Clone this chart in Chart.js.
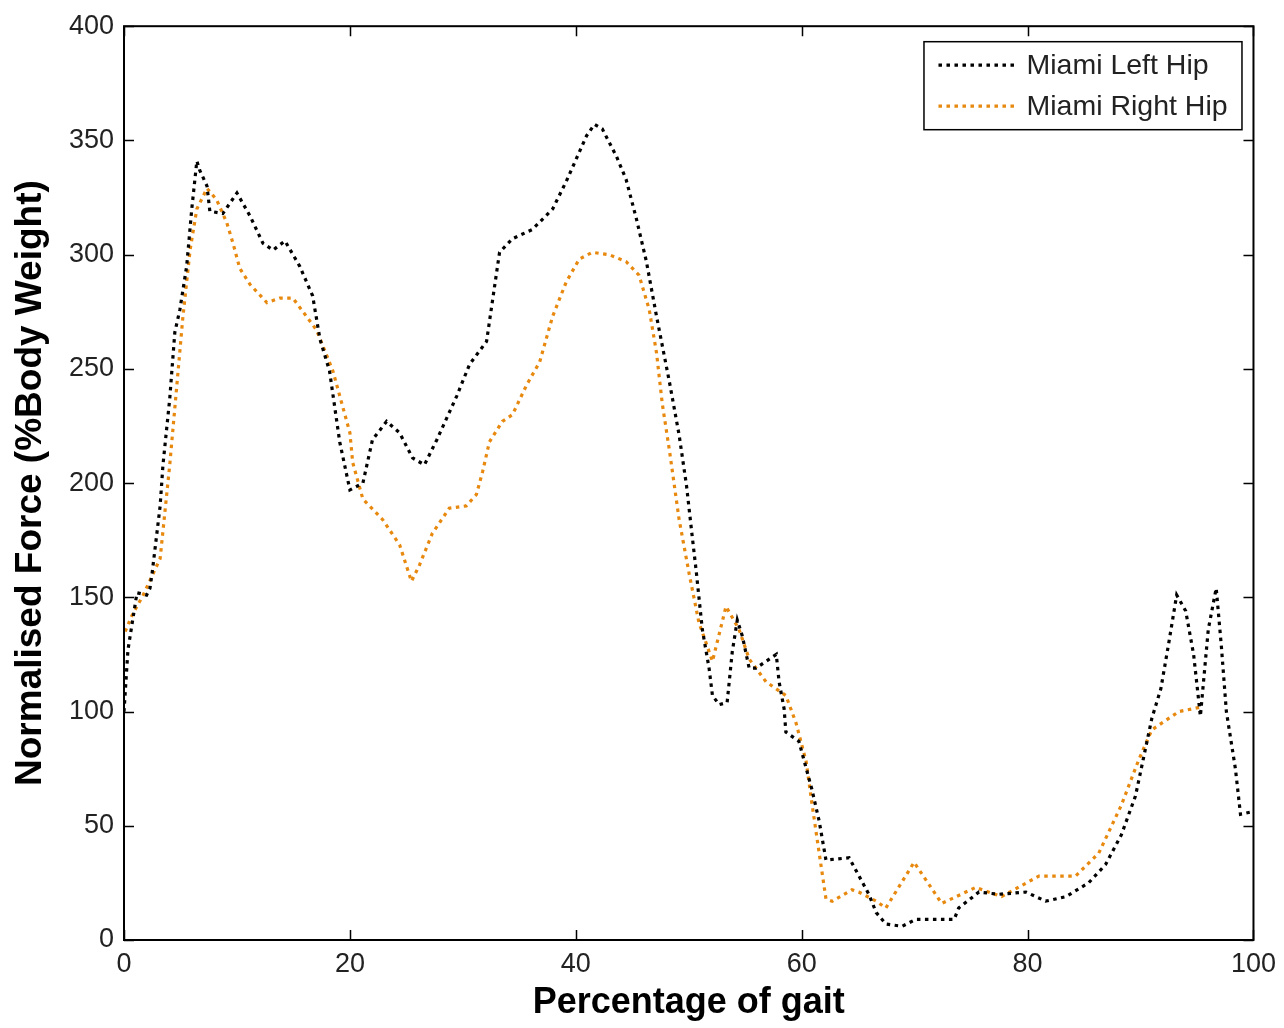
<!DOCTYPE html>
<html>
<head>
<meta charset="utf-8">
<script src="https://cdn.jsdelivr.net/npm/chart.js@4/dist/chart.umd.min.js"></script>
<style>
  html, body { margin: 0; padding: 0; background: #fff; }
  #wrap { width: 1284px; height: 1028px; }
</style>
</head>
<body>
<div id="wrap"><canvas id="c" width="1284" height="1028"></canvas></div>
<script>
// Joint contact force over the gait cycle
const leftHipX = [0, 0.35, 1.15, 2.0, 2.3, 2.5, 3.2, 3.45, 4.05, 4.5, 4.95, 5.55, 6.0, 6.45, 6.7, 7.35, 7.6, 8.75, 10.0, 11.15,
  12.3, 13.2, 14.25, 15.55, 16.7, 17.35, 18.2, 19.1, 20.0, 21.15, 22.0, 23.25, 24.4, 25.55, 26.6, 27.7, 29.45, 30.6, 32.1, 32.6,
  33.25, 34.4, 36.15, 37.95, 39.15, 40.95, 41.65, 42.35, 43.6, 44.45, 45.35, 46.25, 47.15, 48.3, 49.15, 49.8, 50.3, 50.65, 51.2, 51.8,
  52.1, 52.7, 53.4, 53.85, 54.3, 54.75, 55.35, 55.95, 56.85, 57.75, 58.0, 58.45, 58.6, 59.75, 60.9, 61.55, 62.15, 64.2, 65.95, 66.6,
  67.45, 68.9, 70.1, 73.5, 73.9, 75.7, 77.45, 79.85, 81.6, 83.4, 85.4, 86.9, 88.3, 89.55, 90.45, 91.0, 91.8, 92.5, 93.2, 94.0,
  94.7, 95.3, 96.0, 96.7, 97.15, 97.6, 98.4, 98.85, 99.75, 100];
const leftHipY = [100, 127, 152, 151, 154, 161, 190, 208, 237, 266, 276, 295, 320, 341, 337, 330, 319, 318, 327, 317,
  305, 302, 306, 295, 282, 263, 249, 218, 197, 200, 219, 227, 222, 211, 208, 219, 238, 252, 262, 279,
  301, 307, 311, 320, 332, 352, 357, 355, 343, 333, 316, 297, 273, 244, 221, 199, 177, 162, 136, 119,
  107, 103, 104, 126, 140, 133, 119, 119, 122, 125, 113, 101, 91, 87, 66, 52, 35, 36, 20, 12,
  7, 6, 9, 9, 14, 21, 20, 21, 17, 19, 25, 33, 46, 63, 84, 97, 110, 130, 151, 144,
  125, 98, 136, 154, 129, 100, 75, 55, 56, 57];

const rightHipX = [0.1, 0.7, 1.7, 3.2, 4.05, 4.7, 5.2, 5.85, 6.45, 7.35, 8.2, 9.1, 9.65, 10.25, 11.15, 12.65, 13.8, 14.95, 17.05, 18.5,
  20.0, 20.25, 21.15, 22.9, 24.4, 25.45, 26.15, 27.3, 28.8, 30.3, 31.2, 31.75, 32.35, 33.5, 34.4, 35.65, 36.8, 37.95, 39.15, 40.3,
  41.45, 42.95, 44.45, 45.6, 46.5, 47.15, 47.65, 48.3, 49.15, 50.05, 50.9, 52.1, 53.3, 54.45, 55.35, 56.85, 58.6, 59.5, 60.4, 60.9,
  61.55, 62.15, 62.7, 64.45, 65.05, 66.6, 67.45, 69.95, 72.4, 75.4, 77.7, 81.0, 84.25, 86.3, 88.3, 89.85, 91.0, 93.4, 95.4];
const rightHipY = [135, 142, 151, 167, 208, 244, 272, 302, 320, 329, 324, 314, 305, 294, 287, 279, 281, 281, 267, 249,
  222, 209, 193, 184, 173, 157, 164, 178, 189, 190, 195, 205, 218, 227, 230, 243, 253, 273, 288, 298,
  301, 300, 297, 291, 276, 257, 235, 214, 184, 160, 139, 122, 146, 136, 123, 113, 107, 95, 78, 60,
  38, 18, 17, 22, 21, 17, 14, 34, 16, 23, 19, 28, 28, 38, 59, 79, 92, 100, 102];

const seriesNames = ['Miami Left Hip', 'Miami Right Hip'];
const seriesColors = ['#000000', '#E8890F'];
const xTicks = [0, 20, 40, 60, 80, 100];
const yTicks = [0, 50, 100, 150, 200, 250, 300, 350, 400];
const xTitle = 'Percentage of gait';
const yTitle = 'Normalised Force (%Body Weight)';

const FONT = '"Liberation Sans", Arial, Helvetica, sans-serif';
const DASH = [3.5, 4.5];
const LINE_W = 3.2;

function pairs(xs, ys) {
  return xs.map((x, i) => ({ x: x, y: ys[i] }));
}

// Box frame with inward tick marks on all four sides
const framePlugin = {
  id: 'frame',
  afterDatasetsDraw(chart) {
    const { ctx, chartArea: a, scales } = chart;
    const len = 10;
    ctx.save();
    ctx.strokeStyle = '#000';
    ctx.lineWidth = 1.5;
    ctx.beginPath();
    scales.x.ticks.forEach(t => {
      const px = Math.round(scales.x.getPixelForValue(t.value)) + 0.5;
      ctx.moveTo(px, a.bottom); ctx.lineTo(px, a.bottom - len);
      ctx.moveTo(px, a.top); ctx.lineTo(px, a.top + len);
    });
    scales.y.ticks.forEach(t => {
      const py = Math.round(scales.y.getPixelForValue(t.value)) + 0.5;
      ctx.moveTo(a.left, py); ctx.lineTo(a.left + len, py);
      ctx.moveTo(a.right, py); ctx.lineTo(a.right - len, py);
    });
    ctx.stroke();
    ctx.lineWidth = 2;
    ctx.strokeRect(a.left, a.top, a.right - a.left, a.bottom - a.top);
    ctx.restore();
  }
};

// Boxed legend in the upper right corner of the axes
const boxLegendPlugin = {
  id: 'boxLegend',
  afterDraw(chart) {
    const { ctx, chartArea: a } = chart;
    const w = 318, h = 88;
    const bx = a.right - 12 - w, by = a.top + 15;
    ctx.save();
    ctx.fillStyle = '#fff';
    ctx.fillRect(bx, by, w, h);
    ctx.strokeStyle = '#000';
    ctx.lineWidth = 1.5;
    ctx.strokeRect(bx + 0.5, by + 0.5, w, h);
    chart.data.datasets.forEach((ds, i) => {
      const cy = by + 24 + i * 41;
      ctx.beginPath();
      ctx.setLineDash(DASH);
      ctx.lineWidth = LINE_W;
      ctx.strokeStyle = ds.borderColor;
      ctx.moveTo(bx + 15, cy); ctx.lineTo(bx + 91, cy);
      ctx.stroke();
      ctx.setLineDash([]);
      ctx.fillStyle = '#222';
      ctx.font = '28.5px ' + FONT;
      ctx.textBaseline = 'middle';
      ctx.textAlign = 'left';
      ctx.fillText(ds.label, bx + 103, cy + 1);
    });
    ctx.restore();
  }
};

new Chart(document.getElementById('c'), {
  type: 'scatter',
  data: {
    datasets: [
      { label: seriesNames[0], data: pairs(leftHipX, leftHipY), borderColor: seriesColors[0], backgroundColor: seriesColors[0] },
      { label: seriesNames[1], data: pairs(rightHipX, rightHipY), borderColor: seriesColors[1], backgroundColor: seriesColors[1] }
    ].map(d => Object.assign(d, {
      showLine: true, pointRadius: 0, pointHoverRadius: 0, borderWidth: LINE_W,
      borderDash: DASH, tension: 0, fill: false, borderCapStyle: 'butt'
    }))
  },
  options: {
    responsive: false,
    animation: false,
    events: [],
    layout: { padding: { top: 24, right: 28, left: 0, bottom: 0 } },
    plugins: { legend: { display: false }, tooltip: { enabled: false } },
    scales: {
      x: {
        type: 'linear', min: 0, max: 100,
        afterBuildTicks: s => { s.ticks = xTicks.map(v => ({ value: v })); },
        afterFit: s => { s.height = 88; },
        grid: { display: false, drawTicks: false },
        border: { display: false },
        ticks: { padding: 8, color: '#222', font: { family: FONT, size: 27 }, maxRotation: 0 },
        title: { display: true, text: xTitle, color: '#000', font: { family: FONT, size: 36, weight: 'bold' }, padding: { top: 0, bottom: 3 } }
      },
      y: {
        type: 'linear', min: 0, max: 400,
        afterBuildTicks: s => { s.ticks = yTicks.map(v => ({ value: v })); },
        afterFit: s => { s.width = 124; },
        grid: { display: false, drawTicks: false },
        border: { display: false },
        ticks: { padding: 10, color: '#222', font: { family: FONT, size: 27 } },
        title: { display: true, text: yTitle, color: '#000', font: { family: FONT, size: 37, weight: 'bold' }, padding: { top: 9, bottom: 0 } }
      }
    }
  },
  plugins: [framePlugin, boxLegendPlugin]
});
</script>
</body>
</html>
